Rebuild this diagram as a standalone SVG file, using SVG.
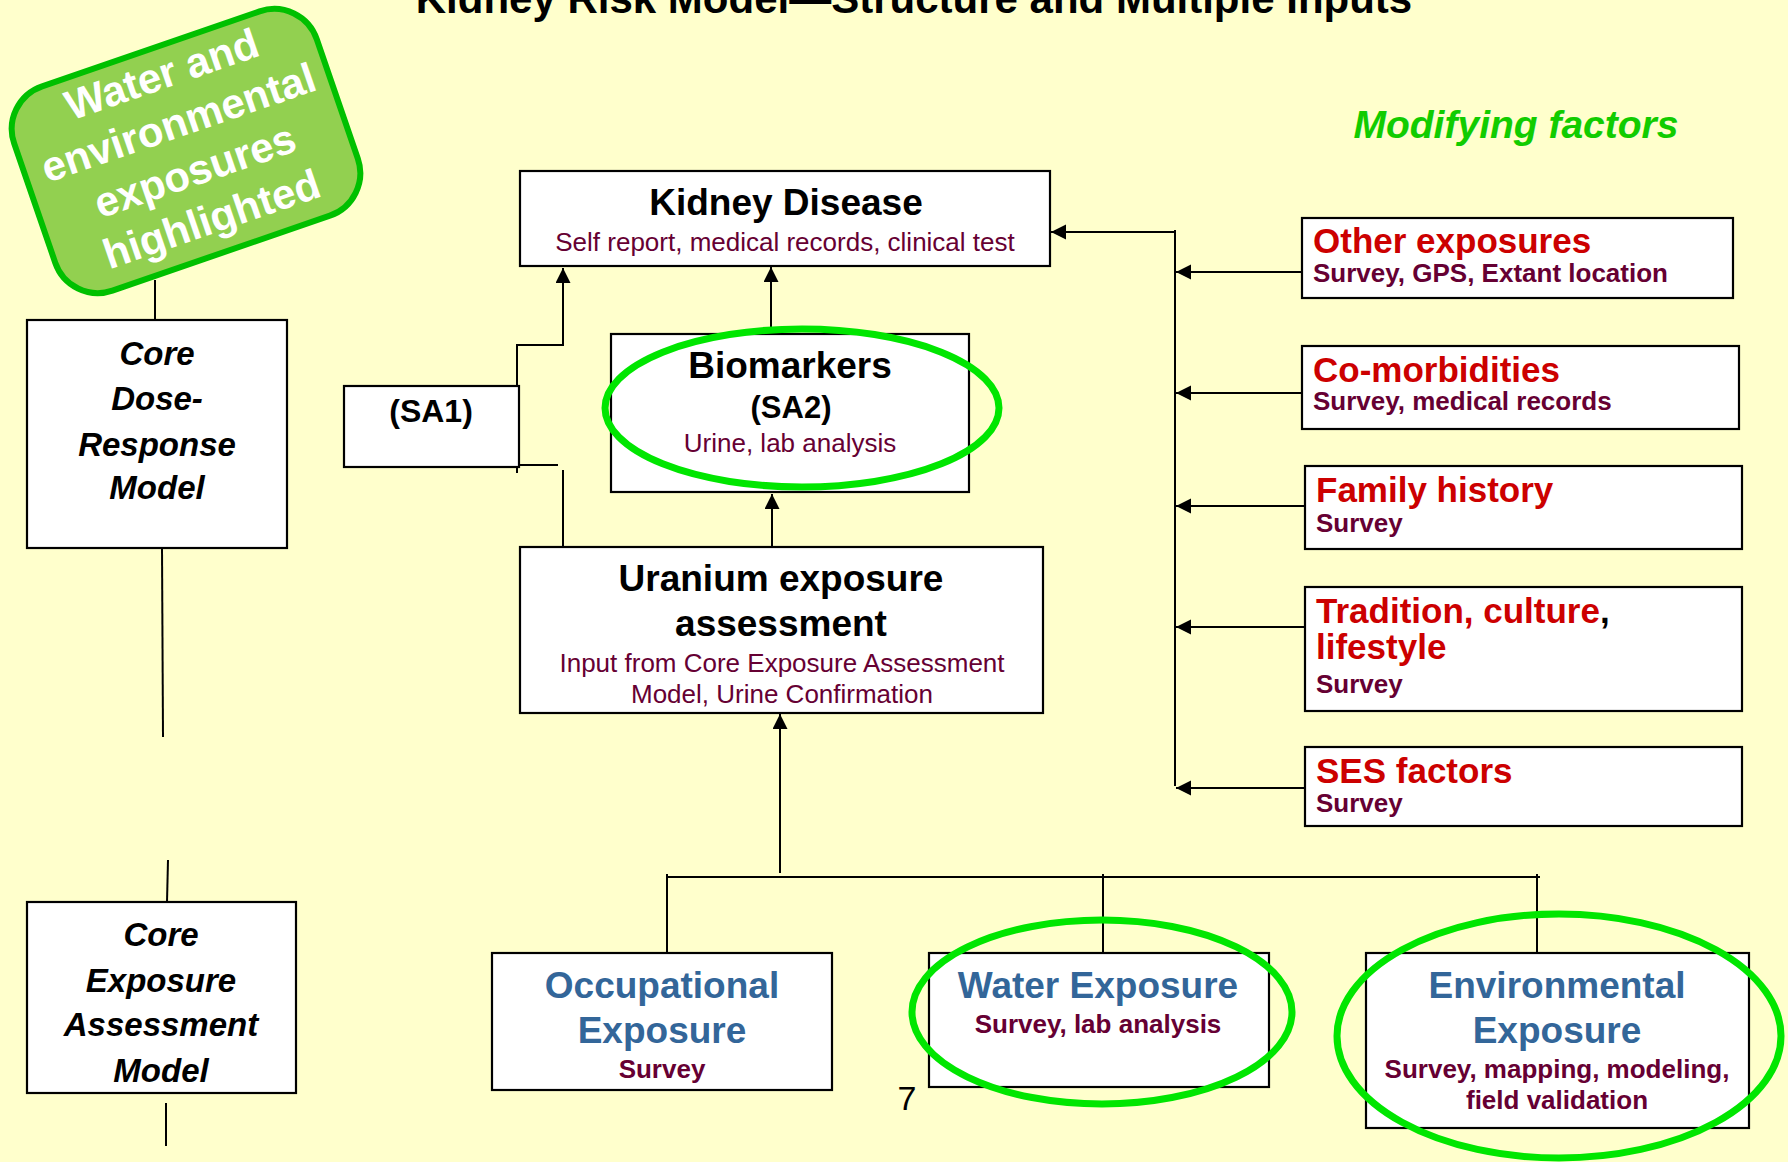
<svg xmlns="http://www.w3.org/2000/svg" width="1788" height="1162" viewBox="0 0 1788 1162">
<defs>
<marker id="arr" markerUnits="userSpaceOnUse" markerWidth="16" markerHeight="16" refX="15" refY="7.5" orient="auto">
<path d="M0,0 L15,7.5 L0,15 Z" fill="#000"/>
</marker>
<style>
.box{fill:#fff;stroke:#000;stroke-width:2.2}
.ln{fill:none;stroke:#000;stroke-width:2}
.hl{fill:none;stroke:#00e600;stroke-width:7}
.t{font-family:"Liberation Sans",Arial,sans-serif}
.h{font-weight:bold;font-size:37px;fill:#000;text-anchor:middle}
.s{font-size:26px;fill:#660033;text-anchor:middle}
.sb{font-weight:bold;font-size:26px;fill:#660033}
.core{font-weight:bold;font-style:italic;font-size:33px;fill:#000;text-anchor:middle}
.blue{font-weight:bold;font-size:37px;fill:#336699;text-anchor:middle}
.red{font-weight:bold;font-size:35px;fill:#cc0000}
</style>
</defs>
<rect x="0" y="0" width="1788" height="1162" fill="#ffffcc"/>
<text class="t" x="914" y="13" font-size="42" font-weight="bold" text-anchor="middle" fill="#000">Kidney Risk Model—Structure and Multiple Inputs</text>
<text class="t" x="1516" y="138" font-size="39" font-weight="bold" font-style="italic" text-anchor="middle" fill="#11cc00">Modifying factors</text>

<g id="connectors">
<line class="ln" x1="155" y1="280" x2="155" y2="320"/>
<line class="ln" x1="162" y1="548" x2="163" y2="737"/>
<line class="ln" x1="168" y1="860" x2="167" y2="902"/>
<line class="ln" x1="166" y1="1103" x2="166" y2="1146"/>
<polyline class="ln" points="517,473 517,345 563,345 563,268" marker-end="url(#arr)"/>
<line class="ln" x1="517" y1="465" x2="558" y2="465"/>
<line class="ln" x1="563" y1="470" x2="563" y2="547"/>
<line class="ln" x1="771" y1="330" x2="771" y2="267" marker-end="url(#arr)"/>
<line class="ln" x1="772" y1="547" x2="772" y2="494" marker-end="url(#arr)"/>
<line class="ln" x1="780" y1="873" x2="780" y2="714" marker-end="url(#arr)"/>
<line class="ln" x1="667" y1="877" x2="1540" y2="877"/>
<line class="ln" x1="667" y1="874" x2="667" y2="953"/>
<line class="ln" x1="1103" y1="874" x2="1103" y2="957"/>
<line class="ln" x1="1537" y1="874" x2="1537" y2="953"/>
<line class="ln" x1="1175" y1="230" x2="1175" y2="786"/>
<line class="ln" x1="1175" y1="232" x2="1051" y2="232" marker-end="url(#arr)"/>
<line class="ln" x1="1302" y1="272" x2="1176" y2="272" marker-end="url(#arr)"/>
<line class="ln" x1="1302" y1="393" x2="1176" y2="393" marker-end="url(#arr)"/>
<line class="ln" x1="1305" y1="506" x2="1176" y2="506" marker-end="url(#arr)"/>
<line class="ln" x1="1305" y1="627" x2="1176" y2="627" marker-end="url(#arr)"/>
<line class="ln" x1="1305" y1="788" x2="1176" y2="788" marker-end="url(#arr)"/>
</g>

<g id="callout" transform="translate(186,151) rotate(-19)">
<rect x="-160" y="-108" width="320" height="216" rx="45" fill="#92d050" stroke="#00c000" stroke-width="6"/>
<g class="t" font-weight="bold" font-size="42" fill="#fff" text-anchor="middle">
<text x="2" y="-66">Water and</text>
<text x="2" y="-15">environmental</text>
<text x="2" y="36">exposures</text>
<text x="2" y="87">highlighted</text>
</g>
</g>

<g id="core-dose">
<rect class="box" x="27" y="320" width="260" height="228"/>
<text class="t core" x="157" y="365">Core</text>
<text class="t core" x="157" y="410">Dose-</text>
<text class="t core" x="157" y="456">Response</text>
<text class="t core" x="157" y="499">Model</text>
</g>

<g id="core-exposure">
<rect class="box" x="27" y="902" width="269" height="191"/>
<text class="t core" x="161" y="946">Core</text>
<text class="t core" x="161" y="992">Exposure</text>
<text class="t core" x="161" y="1036">Assessment</text>
<text class="t core" x="161" y="1082">Model</text>
</g>

<g id="sa1">
<rect class="box" x="344" y="386" width="175" height="81"/>
<text class="t" x="431" y="422" font-size="32" font-weight="bold" text-anchor="middle">(SA1)</text>
</g>

<g id="kidney">
<rect class="box" x="520" y="171" width="530" height="95"/>
<text class="t h" x="786" y="215">Kidney Disease</text>
<text class="t s" x="785" y="251">Self report, medical records, clinical test</text>
</g>

<g id="biomarkers">
<rect class="box" x="611" y="334" width="358" height="158"/>
<text class="t h" x="790" y="378">Biomarkers</text>
<text class="t" x="791" y="418" font-size="31" font-weight="bold" text-anchor="middle">(SA2)</text>
<text class="t s" x="790" y="452">Urine, lab analysis</text>
<ellipse class="hl" cx="802" cy="408" rx="197" ry="79"/>
</g>

<g id="uranium">
<rect class="box" x="520" y="547" width="523" height="166"/>
<text class="t h" x="781" y="591">Uranium exposure</text>
<text class="t h" x="781" y="636">assessment</text>
<text class="t s" x="782" y="672">Input from Core Exposure Assessment</text>
<text class="t s" x="782" y="703">Model, Urine Confirmation</text>
</g>

<g id="occupational">
<rect class="box" x="492" y="953" width="340" height="137"/>
<text class="t blue" x="662" y="998">Occupational</text>
<text class="t blue" x="662" y="1043">Exposure</text>
<text class="t sb" x="662" y="1078" text-anchor="middle">Survey</text>
</g>

<g id="water">
<rect class="box" x="929" y="953" width="340" height="134"/>
<text class="t blue" x="1098" y="998">Water Exposure</text>
<text class="t sb" x="1098" y="1033" text-anchor="middle">Survey, lab analysis</text>
<ellipse class="hl" cx="1102" cy="1012" rx="190" ry="92"/>
</g>

<g id="environmental">
<rect class="box" x="1366" y="953" width="383" height="175"/>
<text class="t blue" x="1557" y="998">Environmental</text>
<text class="t blue" x="1557" y="1043">Exposure</text>
<text class="t sb" x="1557" y="1078" text-anchor="middle">Survey, mapping, modeling,</text>
<text class="t sb" x="1557" y="1109" text-anchor="middle">field validation</text>
<ellipse class="hl" cx="1559" cy="1036" rx="222" ry="122"/>
</g>

<text class="t" x="907" y="1110" font-size="34" text-anchor="middle" fill="#000">7</text>

<g id="other-exposures">
<rect class="box" x="1302" y="218" width="431" height="80"/>
<text class="t red" x="1313" y="253">Other exposures</text>
<text class="t sb" x="1313" y="282">Survey, GPS, Extant location</text>
</g>
<g id="comorbidities">
<rect class="box" x="1302" y="346" width="437" height="83"/>
<text class="t red" x="1313" y="382">Co-morbidities</text>
<text class="t sb" x="1313" y="410">Survey, medical records</text>
</g>
<g id="family-history">
<rect class="box" x="1305" y="466" width="437" height="83"/>
<text class="t red" x="1316" y="502">Family history</text>
<text class="t sb" x="1316" y="532">Survey</text>
</g>
<g id="tradition">
<rect class="box" x="1305" y="587" width="437" height="124"/>
<text class="t red" x="1316" y="623">Tradition, culture<tspan fill="#000">,</tspan></text>
<text class="t red" x="1316" y="659">lifestyle</text>
<text class="t sb" x="1316" y="693">Survey</text>
</g>
<g id="ses">
<rect class="box" x="1305" y="747" width="437" height="79"/>
<text class="t red" x="1316" y="783">SES factors</text>
<text class="t sb" x="1316" y="812">Survey</text>
</g>
</svg>
